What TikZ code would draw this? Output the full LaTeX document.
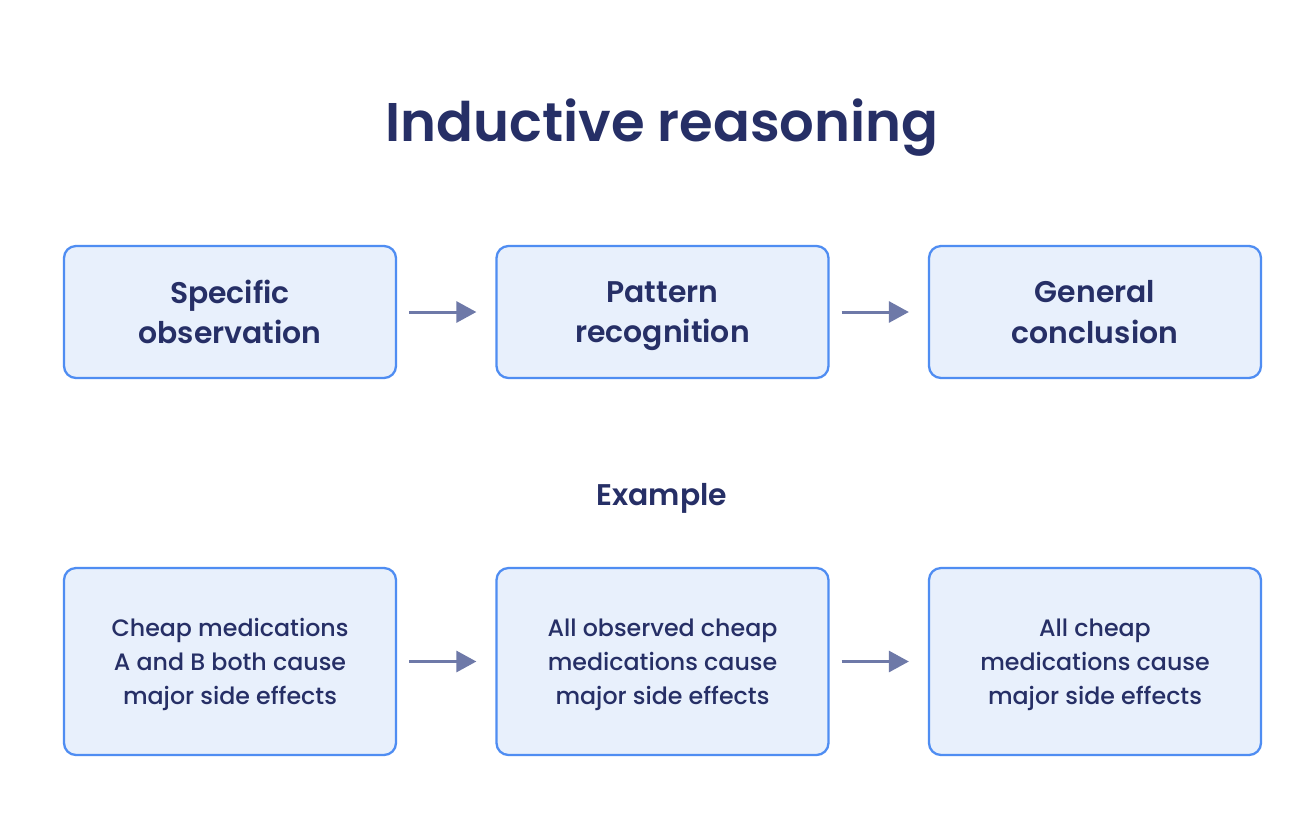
\documentclass[tikz,border=0pt]{standalone}
\usepackage{fontspec}
\setmainfont{Poppins}[BoldFont={Poppins SemiBold}]
\newfontfamily\mediumfont{Poppins Medium}
\usetikzlibrary{positioning,arrows.meta}

\definecolor{navy}{HTML}{262F66}
\definecolor{boxfill}{HTML}{E8F0FC}
\definecolor{boxline}{HTML}{4F8DF2}
\definecolor{arrowgray}{HTML}{6E79A8}

\begin{document}
\begin{tikzpicture}[node distance=8.65cm]
	\tikzstyle{stage} = [draw=boxline, fill=boxfill, line width=1.3pt, rounded corners=0.24cm,
		minimum width=6.64cm, minimum height=2.64cm, align=center, text=navy,
		font=\fontsize{17}{23}\selectfont\bfseries]
	\tikzstyle{case} = [stage, minimum height=3.74cm, font=\fontsize{13.5}{19.3}\selectfont\mediumfont]
	\tikzstyle{link} = [-{Triangle[length=0.4cm, width=0.42cm]}, draw=arrowgray, line width=1.7pt,
		shorten <=0.24cm, shorten >=0.38cm]

	% Frame of the picture
	\useasboundingbox[fill=white] (0,0) rectangle (26,-16.44);

	% Heading
	\node[text=navy, font=\fontsize{31}{36}\selectfont\bfseries] (title) at (13.24,-2.56) {Inductive reasoning};

	% Steps of the reasoning
	\node[stage] (S1) at (4.6,-6.24) {Specific\\observation};
	\node[stage] (S2) [right of=S1] {Pattern\\\smash{recognition}};
	\node[stage] (S3) [right of=S2] {General\\conclusion};

	% Example heading
	\node[text=navy, font=\fontsize{17}{23}\selectfont\bfseries] (example) at (13.24,-9.96) {Example};

	% Example boxes
	\node[case] (E1) at (4.6,-13.23) {Cheap medications\\A and B both cause\\\smash{major side effects}};
	\node[case] (E2) [right of=E1] {All observed cheap\\medications cause\\\smash{major side effects}};
	\node[case] (E3) [right of=E2] {All cheap\\medications cause\\\smash{major side effects}};

	% Arrows between boxes
	\draw[link] (S1) -- (S2);
	\draw[link] (S2) -- (S3);
	\draw[link] (E1) -- (E2);
	\draw[link] (E2) -- (E3);

\end{tikzpicture}
\end{document}
